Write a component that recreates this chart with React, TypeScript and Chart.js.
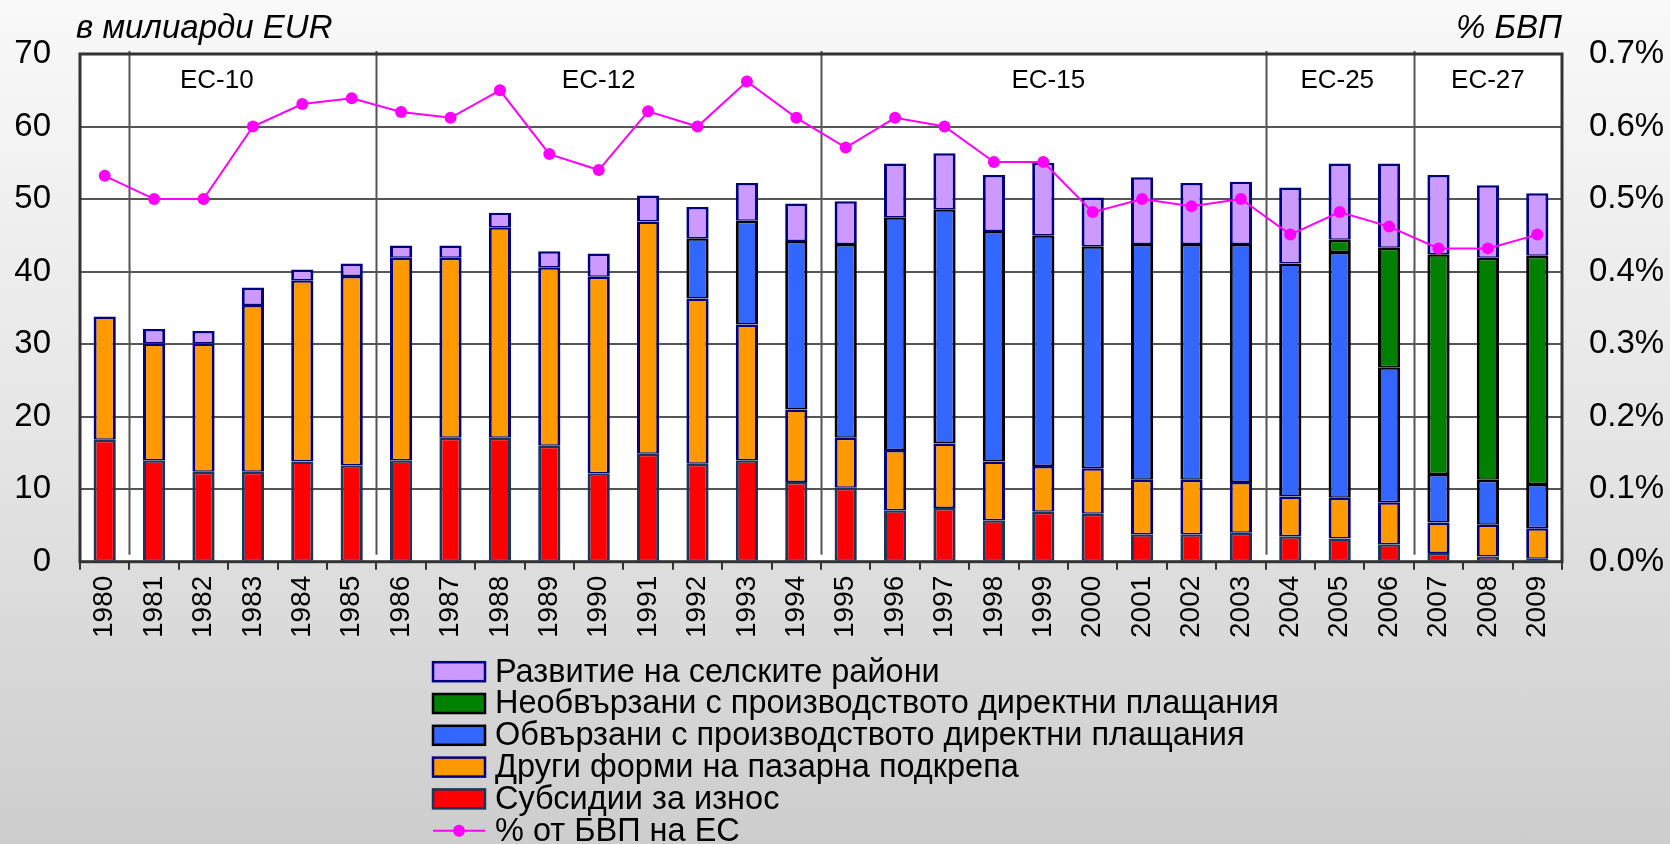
import React, { useEffect, useRef } from 'react';
import { Chart, registerables } from 'chart.js';

Chart.register(...registerables);

const years = ['1980','1981','1982','1983','1984','1985','1986','1987','1988','1989','1990','1991','1992','1993','1994','1995','1996','1997','1998','1999','2000','2001','2002','2003','2004','2005','2006','2007','2008','2009'];

const exportSubsidies = [16.8,14.0,12.4,12.4,13.8,13.3,14.0,17.1,17.1,16.0,12.2,14.9,13.5,14.0,11.0,10.2,7.1,7.4,5.7,6.9,6.6,3.8,3.8,4.0,3.5,3.2,2.4,1.2,0.7,0.4];
const otherMarketSupport = [17.0,16.1,17.7,23.0,25.0,26.1,27.9,24.8,29.0,24.6,27.1,32.0,22.8,18.7,10.0,6.9,8.3,8.9,8.1,6.3,6.3,7.5,7.5,7.0,5.5,5.6,5.8,4.2,4.4,4.2];
const coupledPayments = [null,null,null,null,null,null,null,null,null,null,null,null,8.3,14.3,23.2,26.7,32.1,32.3,31.8,31.8,30.6,32.5,32.5,32.8,32.1,33.9,18.6,6.7,6.2,6.1];
const decoupledPayments = [null,null,null,null,null,null,null,null,null,null,null,null,null,null,null,null,null,null,null,null,null,null,null,null,null,1.7,16.5,30.3,30.6,31.5];
const ruralDevelopment = [null,2.0,1.7,2.4,1.5,1.7,1.7,1.7,2.0,2.2,3.2,3.6,4.3,5.2,5.2,5.9,7.4,7.7,7.7,10.0,6.7,9.2,8.4,8.6,10.5,10.5,11.6,10.9,10.0,8.6];
const gdpShare = [0.532,0.50,0.50,0.60,0.631,0.639,0.62,0.612,0.65,0.562,0.54,0.621,0.60,0.662,0.612,0.571,0.612,0.60,0.551,0.551,0.482,0.50,0.49,0.50,0.451,0.482,0.462,0.432,0.432,0.451];

const seriesNames = [
  'Субсидии за износ',
  'Други форми на пазарна подкрепа',
  'Обвързани с производството директни плащания',
  'Необвързани с производството директни плащания',
  'Развитие на селските райони',
  '% от БВП на ЕС',
];

const eraNames = ['ЕС-10', 'ЕС-12', 'ЕС-15', 'ЕС-25', 'ЕС-27'];
const eraStartIndex = [1, 6, 15, 24, 27];
const eraLabelPos = [2.27, 10.0, 19.1, 24.95, 28.0];

const leftAxisTitle = 'в милиарди EUR';
const rightAxisTitle = '% БВП';

const FONT = "'Liberation Sans', Arial, sans-serif";

const COLORS = {
  red: '#FF0000', redBorder: '#17375E',
  orange: '#FF9900', orangeBorder: '#000080',
  blue: '#3366FF', blueBorder: '#000000',
  green: '#008000', greenBorder: '#000000',
  purple: '#CC99FF', purpleBorder: '#000080',
  line: '#FF00FF',
};

const W = 1670;
const H = 844;

export default function App() {
  const ref = useRef<HTMLCanvasElement | null>(null);

  useEffect(() => {
    const canvas = ref.current;
    if (!canvas) return;

    const barBorder = { top: 2.5, bottom: 1.5, left: 3, right: 3 };
    const mkBar = (label: string, data: (number | null)[], bg: string, bc: string) => ({
      type: 'bar' as const,
      label,
      data,
      backgroundColor: bg,
      borderColor: bc,
      borderWidth: barBorder,
      borderSkipped: false,
      stack: 's',
      yAxisID: 'y',
      order: 1,
      barPercentage: 0.45,
      categoryPercentage: 1.0,
    });

    const decorPlugin = {
      id: 'decor',
      beforeDraw(chart: any) {
        const { ctx, chartArea } = chart;
        ctx.save();
        ctx.fillStyle = '#FFFFFF';
        ctx.fillRect(chartArea.left, chartArea.top, chartArea.right - chartArea.left, chartArea.bottom - chartArea.top);
        ctx.restore();
      },
      beforeDatasetsDraw(chart: any) {
        const { ctx, chartArea } = chart;
        const xs = chart.scales.x;
        const step = xs.getPixelForValue(1) - xs.getPixelForValue(0);
        ctx.save();
        ctx.strokeStyle = '#555555';
        ctx.lineWidth = 2;
        eraStartIndex.forEach((i) => {
          const x = Math.round(xs.getPixelForValue(i) - step / 2) + 0.5;
          ctx.beginPath();
          ctx.moveTo(x, chartArea.top - 3);
          ctx.lineTo(x, chartArea.bottom - 7);
          ctx.stroke();
        });
        ctx.strokeStyle = '#333333';
        ctx.lineWidth = 3;
        ctx.strokeRect(chartArea.left, chartArea.top, chartArea.right - chartArea.left, chartArea.bottom - chartArea.top);
        ctx.fillStyle = '#000000';
        ctx.font = `26px ${FONT}`;
        ctx.textAlign = 'center';
        ctx.textBaseline = 'middle';
        eraNames.forEach((n, k) => {
          const x = xs.getPixelForValue(0) + eraLabelPos[k] * step;
          ctx.fillText(n, x, chartArea.top + 27);
        });
        ctx.restore();
      },
      afterDraw(chart: any) {
        const { ctx, chartArea } = chart;
        ctx.save();
        ctx.fillStyle = '#000000';
        ctx.font = `italic 33px ${FONT}`;
        ctx.textBaseline = 'alphabetic';
        ctx.textAlign = 'left';
        ctx.fillText(leftAxisTitle, chartArea.left - 4, 38);
        ctx.textAlign = 'right';
        ctx.fillText(rightAxisTitle, chartArea.right, 38);

        const items = [
          { label: seriesNames[4], fill: COLORS.purple, stroke: COLORS.purpleBorder, line: false },
          { label: seriesNames[3], fill: COLORS.green, stroke: COLORS.greenBorder, line: false },
          { label: seriesNames[2], fill: COLORS.blue, stroke: COLORS.blueBorder, line: false },
          { label: seriesNames[1], fill: COLORS.orange, stroke: COLORS.orangeBorder, line: false },
          { label: seriesNames[0], fill: COLORS.red, stroke: COLORS.redBorder, line: false },
          { label: seriesNames[5], fill: COLORS.line, stroke: COLORS.line, line: true },
        ];
        const boxX = 433;
        const boxW = 52;
        const boxH = 19;
        const textX = 495;
        const firstY = chartArea.bottom + 110;
        const rowH = 31.8;
        ctx.font = `32.5px ${FONT}`;
        ctx.textAlign = 'left';
        ctx.textBaseline = 'middle';
        items.forEach((it, i) => {
          const cy = firstY + i * rowH;
          if (it.line) {
            ctx.strokeStyle = it.stroke;
            ctx.lineWidth = 2;
            ctx.beginPath();
            ctx.moveTo(boxX, cy);
            ctx.lineTo(boxX + boxW, cy);
            ctx.stroke();
            ctx.fillStyle = it.fill;
            ctx.beginPath();
            ctx.arc(boxX + boxW / 2, cy, 6, 0, Math.PI * 2);
            ctx.fill();
          } else {
            ctx.fillStyle = it.fill;
            ctx.fillRect(boxX, cy - boxH / 2, boxW, boxH);
            ctx.strokeStyle = it.stroke;
            ctx.lineWidth = 2.5;
            ctx.strokeRect(boxX, cy - boxH / 2, boxW, boxH);
          }
          ctx.fillStyle = '#000000';
          ctx.fillText(it.label, textX, cy + 1);
        });
        ctx.restore();
      },
    };

    const chart = new Chart(canvas, {
      data: {
        labels: years,
        datasets: [
          mkBar(seriesNames[0], exportSubsidies, COLORS.red, COLORS.redBorder),
          mkBar(seriesNames[1], otherMarketSupport, COLORS.orange, COLORS.orangeBorder),
          mkBar(seriesNames[2], coupledPayments, COLORS.blue, COLORS.blueBorder),
          mkBar(seriesNames[3], decoupledPayments, COLORS.green, COLORS.greenBorder),
          mkBar(seriesNames[4], ruralDevelopment, COLORS.purple, COLORS.purpleBorder),
          {
            type: 'line' as const,
            label: seriesNames[5],
            data: gdpShare,
            yAxisID: 'y1',
            borderColor: COLORS.line,
            backgroundColor: COLORS.line,
            borderWidth: 2,
            pointRadius: 6,
            pointBorderWidth: 0,
            pointBackgroundColor: COLORS.line,
            tension: 0,
            order: 0,
          },
        ] as any,
      },
      options: {
        animation: false,
        responsive: false,
        devicePixelRatio: 1,
        layout: { padding: { top: 54, left: 0, right: 0, bottom: 0 } },
        plugins: {
          legend: { display: false },
          tooltip: { enabled: false },
        },
        scales: {
          x: {
            stacked: true,
            offset: true,
            grid: {
              offset: true,
              drawOnChartArea: false,
              drawTicks: true,
              tickLength: 8,
              color: '#333333',
              tickColor: '#333333',
              lineWidth: 2,
            },
            border: { display: false },
            ticks: {
              color: '#000000',
              font: { family: FONT, size: 28 },
              minRotation: 90,
              maxRotation: 90,
              autoSkip: false,
              padding: 6,
            },
            afterFit(scale: any) {
              scale.height = 282.3;
            },
          },
          y: {
            stacked: true,
            position: 'left',
            min: 0,
            max: 70,
            ticks: {
              stepSize: 10,
              color: '#000000',
              font: { family: FONT, size: 33 },
              padding: 29,
            },
            grid: {
              color: '#555555',
              lineWidth: 2,
              drawTicks: false,
              tickLength: 0,
            },
            border: { display: false },
            afterFit(scale: any) {
              scale.width = 80;
            },
          },
          y1: {
            position: 'right',
            min: 0,
            max: 0.7,
            ticks: {
              stepSize: 0.1,
              color: '#000000',
              font: { family: FONT, size: 33 },
              padding: 27,
              callback: (v: any) => Number(v).toFixed(1) + '%',
            },
            grid: { drawOnChartArea: false, drawTicks: false, tickLength: 0 },
            border: { display: false },
            afterFit(scale: any) {
              scale.width = 108;
            },
          },
        },
      } as any,
      plugins: [decorPlugin],
    });

    return () => chart.destroy();
  }, []);

  return (
    <div
      style={{
        position: 'fixed',
        left: 0,
        top: 0,
        width: W,
        height: H,
        background: 'linear-gradient(to bottom, #f9f9f9 0%, #e4e4e4 55%, #cdcdcd 100%)',
      }}
    >
      <canvas ref={ref} width={W} height={H} style={{ width: W, height: H, display: 'block' }} />
    </div>
  );
}
